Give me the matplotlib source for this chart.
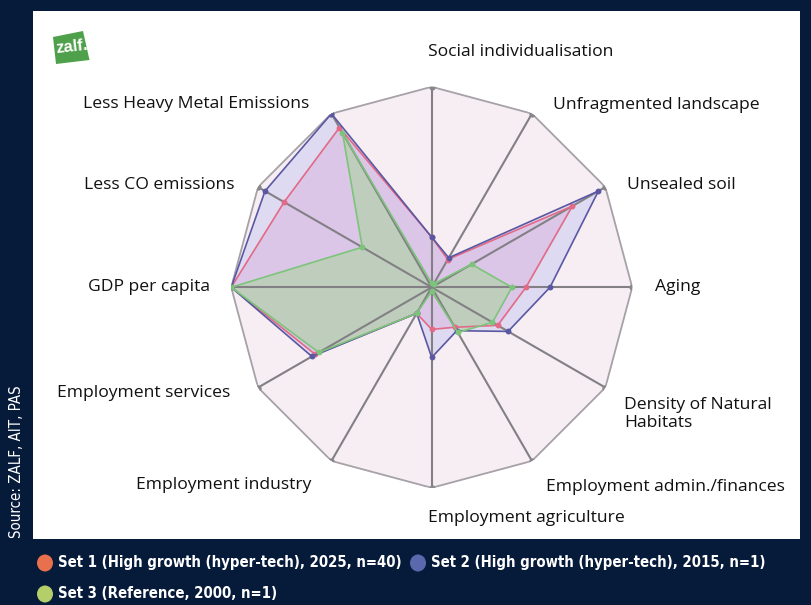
import numpy as np
import matplotlib
matplotlib.use("Agg")
import matplotlib.pyplot as plt
from matplotlib.patches import Rectangle, Polygon, Ellipse

# ---- data -------------------------------------------------------------
categories = [
    "Social individualisation", "Unfragmented landscape", "Unsealed soil",
    "Aging", "Density of Natural\nHabitats", "Employment admin./finances",
    "Employment agriculture", "Employment industry", "Employment services",
    "GDP per capita", "Less CO emissions", "Less Heavy Metal Emissions",
]
set1 = [0.25, 0.16, 0.81, 0.47, 0.38, 0.23, 0.21, 0.15, 0.67, 1.00, 0.85, 0.92]
set2 = [0.25, 0.17, 0.96, 0.59, 0.44, 0.25, 0.35, 0.15, 0.69, 1.00, 0.96, 1.00]
set3 = [0.02, 0.02, 0.23, 0.40, 0.35, 0.26, 0.02, 0.15, 0.65, 1.00, 0.40, 0.89]
legend_labels = [
    "Set 1 (High growth (hyper-tech), 2025, n=40)",
    "Set 2 (High growth (hyper-tech), 2015, n=1)",
    "Set 3 (Reference, 2000, n=1)",
]
source_text = "Source: ZALF, AIT, PAS"

# ---- style ------------------------------------------------------------
W, H = 812, 605
NAVY = "#061a3a"
LABEL_FONT = ["Open Sans", "DejaVu Sans"]
LEGEND_FONT = ["DejaVu Sans"]

line_cols = ["#e26a86", "#5a58a2", "#7cc47a"]
fill_cols = ["#f08cc4", "#c2c2f0", "#b4d2ac"]
fill_alpha = [0.36, 0.45, 0.72]
legend_cols = ["#e8704c", "#5b68ad", "#b4cf6a"]

fig = plt.figure(figsize=(W / 100, H / 100), dpi=100, facecolor=NAVY)


def fx(x):
    return x / W


def fy(y):
    return 1 - y / H


# white panel
fig.patches.append(Rectangle((fx(33), fy(539)), fx(800) - fx(33), fy(11) - fy(539),
                             transform=fig.transFigure, facecolor="white",
                             edgecolor="none", zorder=-2))

# ---- radar axes -------------------------------------------------------
cx, cy, R = 431.7, 287.3, 200.5
ax = fig.add_axes([fx(cx - R), fy(cy + R), 2 * R / W, 2 * R / H], projection="polar")
ax.set_zorder(1)
ax.set_theta_zero_location("N")
ax.set_theta_direction(-1)
ax.set_ylim(0, 1)
ax.grid(False)
ax.set_xticks([])
ax.set_yticks([])
ax.spines["polar"].set_visible(False)
ax.patch.set_alpha(0)

n = len(categories)
theta = np.arange(n) * 2 * np.pi / n
theta_c = np.append(theta, theta[0])
outer = np.ones(n + 1)

# background dodecagon
ax.fill(theta_c, outer, color="#f6eef3", zorder=1)

series = [set1, set2, set3]
fill_order = [1, 0, 2]
for i in fill_order:
    vals = np.append(series[i], series[i][0])
    ax.fill(theta_c, vals, color=fill_cols[i], alpha=fill_alpha[i], lw=0, zorder=2 + i * 0.1)

# spokes and outer frame
for t in theta:
    ax.plot([t, t], [0, 1], color="#828085", lw=1.5, zorder=3)
ax.plot(theta_c, outer, color="#a6a2a8", lw=1.3, zorder=3)
ax.plot(theta, np.ones(n), "o", color="#8a878c", ms=3.5, zorder=3.1)

# series outlines
for i in fill_order:
    vals = np.append(series[i], series[i][0])
    ax.plot(theta_c, vals, color=line_cols[i], lw=1.2, zorder=4 + i * 0.1)
    ax.plot(theta, series[i], "o", color=line_cols[i], ms=3.2, zorder=4.05 + i * 0.1)

# ---- axis labels ------------------------------------------------------
label_pos = [
    (428, 52), (553, 105), (627, 185), (655, 287), (624, 414), (546, 487),
    (428, 518), (136, 485), (57, 393), (88, 287), (84, 185), (83, 104),
]
for text, (x, y) in zip(categories, label_pos):
    fig.text(fx(x), fy(y), text, family=LABEL_FONT, fontsize=12.6, color="#111111",
             ha="left", va="center", linespacing=1.15)

# ---- logo ---------------------------------------------------------------
fig.patches.append(Polygon([(fx(53), fy(37)), (fx(83), fy(31)), (fx(89.5), fy(60)),
                            (fx(56), fy(64))], closed=True, transform=fig.transFigure,
                           facecolor="#4ea14a", edgecolor="none", zorder=1))
fig.text(fx(71.5), fy(47), "zalf.", family=["Liberation Sans", "DejaVu Sans"],
         fontsize=12, weight="bold", color="white", ha="center", va="center",
         rotation=6)

# ---- source ---------------------------------------------------------------
fig.text(fx(17), fy(462), source_text, family=LEGEND_FONT, fontsize=10.8,
         stretch="condensed", color="white", rotation=90, ha="center", va="center")

# ---- legend ---------------------------------------------------------------
legend_pos = [(45, 563), (418, 563), (45, 594)]
for lab, col, (x, y) in zip(legend_labels, legend_cols, legend_pos):
    fig.patches.append(Ellipse((fx(x), fy(y)), 16 / W, 17 / H, transform=fig.transFigure,
                               facecolor=col, edgecolor="none", zorder=2))
    fig.text(fx(x + 13), fy(y), lab, family=LEGEND_FONT, fontsize=10.7,
             weight="bold", stretch="condensed", color="white", ha="left", va="center")

fig.savefig("out.png", dpi=100, facecolor=NAVY)
